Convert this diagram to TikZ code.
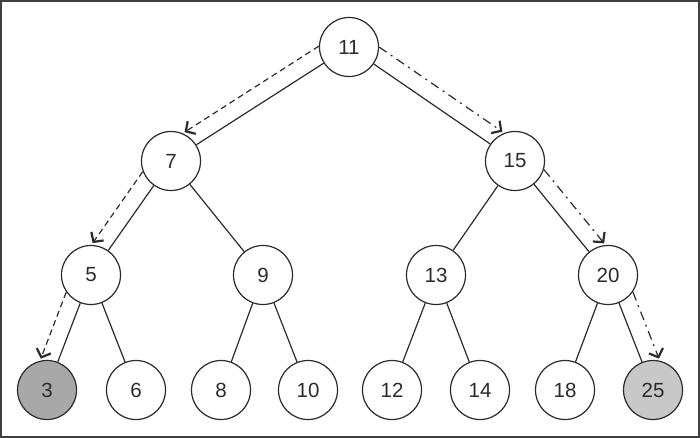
\documentclass[tikz,border=0pt]{standalone}
\usepackage{fontspec}
\setmainfont{Liberation Sans}
\usetikzlibrary{arrows.meta,calc}
\definecolor{ink}{HTML}{2B2B2B}
\definecolor{darkfill}{HTML}{A8A8A8}
\definecolor{lightfill}{HTML}{C8C8C8}
\begin{document}
\begin{tikzpicture}[x=1pt,y=-1pt,
  tn/.style={circle,draw=ink,line width=1.2pt,minimum size=59pt,inner sep=0pt,
    font=\fontsize{20.5}{20.5}\selectfont,text=ink,fill=white},
  edge/.style={draw=ink,line width=1.2pt},
  trace/.style={draw=ink,line width=1.2pt,shorten <=25pt,shorten >=27pt,
    -{Straight Barb[length=7pt,width=15pt,line width=2.2pt]}},
  dsh/.style={dash pattern=on 6pt off 4pt},
  dd/.style={dash pattern=on 9pt off 5pt on 2pt off 5pt}]
\useasboundingbox (0,0) rectangle (700,438);
\draw[ink!90,line width=2pt] (1,1) rectangle (699,437);
% nodes
\node[tn] (n11) at (349,47) {11};
\node[tn] (n7) at (171,161) {7};
\node[tn] (n15) at (515,161) {15};
\node[tn] (n5) at (91,275) {5};
\node[tn] (n9) at (263,275) {9};
\node[tn] (n13) at (436,275) {13};
\node[tn] (n20) at (608,275) {20};
\node[tn,fill=darkfill] (n3) at (47,390) {3};
\node[tn] (n6) at (136,390) {6};
\node[tn] (n8) at (221,390) {8};
\node[tn] (n10) at (308,390) {10};
\node[tn] (n12) at (392,390) {12};
\node[tn] (n14) at (480,390) {14};
\node[tn] (n18) at (565,390) {18};
\node[tn,fill=lightfill] (n25) at (653,390) {25};
% edges
\foreach \a/\b in {n11/n7,n11/n15,n7/n5,n7/n9,n15/n13,n15/n20,n5/n3,n5/n6,n9/n8,n9/n10,n13/n12,n13/n14,n20/n18,n20/n25}
  \draw[edge] (\a) -- (\b);
% search traces
\draw[trace,dsh] ($(n11.center)!17pt!-90:(n7.center)$) -- ($(n7.center)!17pt!90:(n11.center)$);
\draw[trace,dsh] ($(n7.center)!17pt!-90:(n5.center)$) -- ($(n5.center)!17pt!90:(n7.center)$);
\draw[trace,dsh] ($(n5.center)!17pt!-90:(n3.center)$) -- ($(n3.center)!17pt!90:(n5.center)$);
\draw[trace,dd] ($(n11.center)!17pt!90:(n15.center)$) -- ($(n15.center)!17pt!-90:(n11.center)$);
\draw[trace,dd] ($(n15.center)!17pt!90:(n20.center)$) -- ($(n20.center)!17pt!-90:(n15.center)$);
\draw[trace,dd] ($(n20.center)!17pt!90:(n25.center)$) -- ($(n25.center)!17pt!-90:(n20.center)$);
\end{tikzpicture}
\end{document}
